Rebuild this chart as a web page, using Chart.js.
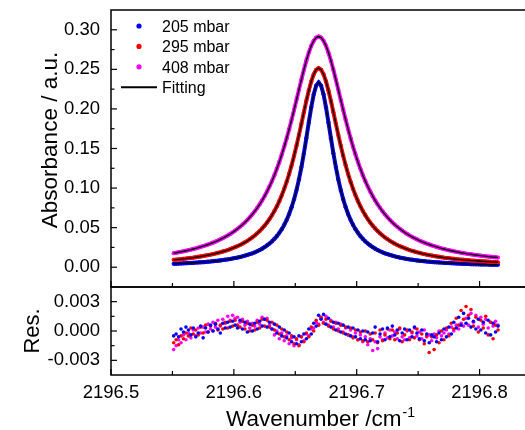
<!DOCTYPE html>
<html>
<head>
<meta charset="utf-8">
<script src="https://cdn.jsdelivr.net/npm/chart.js@4.4.1/dist/chart.umd.min.js"></script>
<style>
  html, body { margin:0; padding:0; background:#fff; width:525px; height:430px; overflow:hidden; }
  canvas { position:absolute; left:0; }
  #cTop { top:0; }
  #cRes { top:280px; }
</style>
</head>
<body>
<canvas id="cTop" width="545" height="300"></canvas>
<canvas id="cRes" width="545" height="150"></canvas>
<script>
// ---------- data ----------
const wavenumber = [
2196.551,2196.553,2196.555,2196.557,2196.559,2196.561,2196.563,2196.565,2196.567,2196.569,
2196.571,2196.573,2196.575,2196.577,2196.579,2196.581,2196.583,2196.585,2196.587,2196.589,
2196.591,2196.593,2196.595,2196.597,2196.599,2196.601,2196.603,2196.605,2196.607,2196.609,
2196.611,2196.613,2196.615,2196.617,2196.619,2196.621,2196.623,2196.625,2196.627,2196.629,
2196.631,2196.633,2196.635,2196.637,2196.639,2196.641,2196.643,2196.645,2196.647,2196.649,
2196.651,2196.653,2196.655,2196.657,2196.659,2196.661,2196.663,2196.665,2196.667,2196.669,
2196.671,2196.673,2196.675,2196.677,2196.679,2196.681,2196.683,2196.685,2196.687,2196.689,
2196.691,2196.693,2196.695,2196.697,2196.699,2196.701,2196.703,2196.705,2196.707,2196.709,
2196.711,2196.713,2196.715,2196.717,2196.719,2196.721,2196.723,2196.725,2196.727,2196.729,
2196.731,2196.733,2196.735,2196.737,2196.739,2196.741,2196.743,2196.745,2196.747,2196.749,
2196.751,2196.753,2196.755,2196.757,2196.759,2196.761,2196.763,2196.765,2196.767,2196.769,
2196.771,2196.773,2196.775,2196.777,2196.779,2196.781,2196.783,2196.785,2196.787,2196.789,
2196.791,2196.793,2196.795,2196.797,2196.799,2196.801,2196.803,2196.805,2196.807,2196.809,
2196.811,2196.813,2196.815];

const abs205 = [
0.0043,0.0044,0.0046,0.0047,0.0049,0.0050,0.0052,0.0054,0.0056,0.0058,
0.0060,0.0062,0.0064,0.0067,0.0070,0.0072,0.0076,0.0079,0.0082,0.0086,
0.0090,0.0095,0.0099,0.0104,0.0110,0.0116,0.0122,0.0129,0.0137,0.0146,
0.0155,0.0165,0.0176,0.0188,0.0202,0.0217,0.0234,0.0253,0.0275,0.0299,
0.0326,0.0358,0.0393,0.0434,0.0481,0.0535,0.0599,0.0672,0.0758,0.0858,
0.0975,0.1110,0.1266,0.1440,0.1631,0.1830,0.2021,0.2184,0.2295,0.2335,
0.2295,0.2184,0.2021,0.1830,0.1631,0.1440,0.1266,0.1110,0.0975,0.0858,
0.0758,0.0672,0.0599,0.0535,0.0481,0.0434,0.0393,0.0358,0.0326,0.0299,
0.0275,0.0253,0.0234,0.0217,0.0202,0.0188,0.0176,0.0165,0.0155,0.0146,
0.0137,0.0129,0.0122,0.0116,0.0110,0.0104,0.0099,0.0095,0.0090,0.0086,
0.0082,0.0079,0.0076,0.0072,0.0070,0.0067,0.0064,0.0062,0.0060,0.0058,
0.0056,0.0054,0.0052,0.0050,0.0049,0.0047,0.0046,0.0044,0.0043,0.0042,
0.0041,0.0039,0.0038,0.0037,0.0036,0.0035,0.0035,0.0034,0.0033,0.0032,
0.0031,0.0031,0.0030];

const abs295 = [
0.0093,0.0096,0.0099,0.0102,0.0106,0.0109,0.0113,0.0117,0.0121,0.0126,
0.0131,0.0136,0.0141,0.0147,0.0153,0.0159,0.0166,0.0173,0.0181,0.0189,
0.0198,0.0207,0.0217,0.0228,0.0240,0.0253,0.0266,0.0281,0.0297,0.0314,
0.0333,0.0354,0.0376,0.0401,0.0428,0.0457,0.0490,0.0525,0.0565,0.0608,
0.0657,0.0710,0.0769,0.0835,0.0909,0.0990,0.1080,0.1179,0.1288,0.1407,
0.1536,0.1672,0.1814,0.1959,0.2101,0.2233,0.2348,0.2438,0.2495,0.2515,
0.2495,0.2438,0.2348,0.2233,0.2101,0.1959,0.1814,0.1672,0.1536,0.1407,
0.1288,0.1179,0.1080,0.0990,0.0909,0.0835,0.0769,0.0710,0.0657,0.0608,
0.0565,0.0525,0.0490,0.0457,0.0428,0.0401,0.0376,0.0354,0.0333,0.0314,
0.0297,0.0281,0.0266,0.0253,0.0240,0.0228,0.0217,0.0207,0.0198,0.0189,
0.0181,0.0173,0.0166,0.0159,0.0153,0.0147,0.0141,0.0136,0.0131,0.0126,
0.0121,0.0117,0.0113,0.0109,0.0106,0.0102,0.0099,0.0096,0.0093,0.0090,
0.0088,0.0085,0.0083,0.0080,0.0078,0.0076,0.0074,0.0072,0.0070,0.0068,
0.0067,0.0065,0.0063];

const abs408 = [
0.0178,0.0183,0.0189,0.0195,0.0201,0.0208,0.0215,0.0222,0.0230,0.0238,
0.0247,0.0256,0.0266,0.0276,0.0287,0.0298,0.0310,0.0323,0.0337,0.0352,
0.0367,0.0384,0.0401,0.0420,0.0441,0.0462,0.0486,0.0511,0.0537,0.0566,
0.0597,0.0631,0.0667,0.0706,0.0749,0.0795,0.0844,0.0898,0.0957,0.1020,
0.1088,0.1163,0.1243,0.1330,0.1423,0.1523,0.1630,0.1744,0.1863,0.1987,
0.2115,0.2244,0.2372,0.2495,0.2610,0.2712,0.2797,0.2861,0.2901,0.2915,
0.2901,0.2861,0.2797,0.2712,0.2610,0.2495,0.2372,0.2244,0.2115,0.1987,
0.1863,0.1744,0.1630,0.1523,0.1423,0.1330,0.1243,0.1163,0.1088,0.1020,
0.0957,0.0898,0.0844,0.0795,0.0749,0.0706,0.0667,0.0631,0.0597,0.0566,
0.0537,0.0511,0.0486,0.0462,0.0441,0.0420,0.0401,0.0384,0.0367,0.0352,
0.0337,0.0323,0.0310,0.0298,0.0287,0.0276,0.0266,0.0256,0.0247,0.0238,
0.0230,0.0222,0.0215,0.0208,0.0201,0.0195,0.0189,0.0183,0.0178,0.0172,
0.0167,0.0163,0.0158,0.0154,0.0150,0.0146,0.0142,0.0138,0.0134,0.0131,
0.0128,0.0125,0.0122];

const res205 = [
-0.0005,-0.0003,-0.0006,0.0002,-0.0001,0.0004,0.0001,-0.0004,0.0003,-0.0006,
-0.0002,0.0005,-0.0007,0.0003,-0.0001,0.0006,0.0000,0.0007,0.0002,-0.0002,
0.0008,0.0003,0.0009,0.0004,0.0010,0.0006,0.0003,0.0011,0.0002,0.0009,
-0.0001,0.0007,0.0000,0.0008,0.0002,0.0010,0.0005,0.0012,0.0004,0.0009,
0.0002,0.0007,-0.0002,0.0004,-0.0005,0.0001,-0.0007,-0.0002,-0.0011,-0.0006,
-0.0013,-0.0005,-0.0011,-0.0003,-0.0008,0.0002,-0.0003,0.0008,0.0005,0.0016,
0.0012,0.0017,0.0007,0.0013,0.0004,0.0009,0.0001,0.0008,-0.0001,0.0006,
-0.0003,0.0004,-0.0005,0.0003,-0.0006,0.0001,-0.0008,0.0000,-0.0009,-0.0001,
-0.0010,-0.0002,0.0004,-0.0011,-0.0003,0.0002,-0.0009,0.0003,-0.0006,0.0005,
-0.0004,0.0001,-0.0010,-0.0002,0.0002,-0.0009,0.0001,-0.0006,0.0004,-0.0002,
-0.0008,0.0001,-0.0010,-0.0003,-0.0012,-0.0004,-0.0006,-0.0011,-0.0002,-0.0009,
0.0002,-0.0006,0.0004,-0.0003,0.0009,0.0003,0.0014,0.0006,0.0018,0.0008,
0.0013,0.0004,0.0010,0.0002,0.0012,0.0001,0.0009,-0.0002,0.0011,-0.0004,
0.0008,-0.0001,0.0005];

const res295 = [
-0.0012,-0.0009,-0.0014,-0.0005,-0.0008,-0.0002,-0.0005,0.0003,-0.0003,0.0001,
-0.0004,0.0004,-0.0002,0.0006,-0.0001,0.0005,0.0000,0.0008,0.0001,0.0006,
0.0002,0.0009,0.0003,0.0010,0.0005,0.0011,0.0006,0.0004,0.0010,0.0002,
0.0008,0.0000,0.0006,0.0001,0.0009,0.0003,0.0012,0.0005,0.0011,0.0004,
0.0009,0.0001,0.0006,-0.0003,0.0002,-0.0006,-0.0001,-0.0009,-0.0005,-0.0013,
-0.0008,-0.0015,-0.0006,-0.0011,-0.0002,-0.0006,0.0004,0.0000,0.0011,0.0006,
0.0014,0.0008,0.0012,0.0005,0.0010,0.0002,0.0008,0.0000,0.0006,-0.0002,
0.0004,-0.0004,0.0003,-0.0007,0.0001,-0.0009,-0.0001,-0.0010,0.0000,-0.0011,
-0.0003,-0.0009,-0.0002,-0.0012,0.0001,-0.0010,-0.0004,0.0002,-0.0008,0.0001,
-0.0009,-0.0002,0.0003,-0.0011,-0.0004,0.0001,-0.0009,-0.0001,-0.0007,0.0002,
-0.0009,-0.0003,-0.0013,-0.0005,-0.0022,-0.0006,-0.0019,-0.0004,-0.0012,0.0000,
-0.0009,0.0003,-0.0005,0.0008,0.0002,0.0013,0.0006,0.0021,0.0012,0.0025,
0.0016,0.0022,0.0005,0.0014,-0.0001,0.0011,0.0003,0.0015,-0.0004,0.0009,
-0.0008,0.0006,0.0001];

const res408 = [
-0.0019,-0.0015,-0.0009,-0.0012,-0.0004,-0.0009,-0.0002,-0.0007,0.0001,-0.0005,
0.0003,-0.0002,0.0004,-0.0001,0.0007,0.0002,0.0009,0.0004,0.0011,0.0005,
0.0012,0.0008,0.0015,0.0011,0.0016,0.0013,0.0014,0.0009,0.0012,0.0006,
0.0010,0.0003,0.0008,0.0005,0.0011,0.0007,0.0014,0.0012,0.0013,0.0006,
0.0002,-0.0004,0.0000,-0.0008,-0.0002,-0.0010,-0.0005,-0.0013,-0.0007,-0.0015,
-0.0009,-0.0014,-0.0006,-0.0010,-0.0003,-0.0005,0.0002,0.0003,0.0009,0.0007,
0.0013,0.0009,0.0015,0.0006,0.0011,0.0004,0.0009,0.0002,0.0007,-0.0001,
0.0003,-0.0004,0.0001,-0.0006,-0.0002,-0.0009,-0.0004,-0.0011,-0.0006,-0.0014,
-0.0008,-0.0020,-0.0011,-0.0018,-0.0006,-0.0009,-0.0002,-0.0007,0.0001,-0.0005,
-0.0001,-0.0008,0.0002,-0.0006,-0.0009,0.0000,-0.0007,-0.0002,0.0003,-0.0005,
-0.0001,-0.0008,0.0001,-0.0006,-0.0004,-0.0010,-0.0003,-0.0007,0.0000,-0.0005,
-0.0002,0.0001,-0.0003,0.0004,0.0000,0.0006,0.0002,0.0008,0.0005,0.0013,
0.0006,0.0018,0.0009,0.0016,0.0004,0.0014,0.0007,0.0012,0.0003,0.0009,
0.0005,0.0010,0.0006];

const seriesLabels = ['205 mbar', '295 mbar', '408 mbar'];
const fitLabel = 'Fitting';
const xTickValues = [2196.5, 2196.6, 2196.7, 2196.8];
const xMinorValues = [2196.55, 2196.65, 2196.75, 2196.85];
const absTickValues = [0, 0.05, 0.10, 0.15, 0.20, 0.25, 0.30];
const absMinorValues = [0.025, 0.075, 0.125, 0.175, 0.225, 0.275];
const resTickValues = [-0.003, 0, 0.003];
const resMinorValues = [-0.0015, 0.0015];
const yTitle = 'Absorbance / a.u.';
const resTitle = 'Res.';
const xTitleMain = 'Wavenumber /cm';
const xTitleSup = '-1';

// ---------- styling ----------
const colors = ['#0000ff', '#ff0000', '#ff00ff'];
const FONT = "'Liberation Sans', Arial, sans-serif";
Chart.defaults.font.family = FONT;
Chart.defaults.color = '#000';

const X_MIN = 2196.5, X_MAX = 2196.85;

const framePlugin = {
  id: 'frame',
  afterDatasetsDraw(chart, args, o) {
    const { ctx, chartArea: a, scales } = chart;
    ctx.save();
    ctx.strokeStyle = '#000';
    ctx.lineWidth = 1.2;
    const seg = (x1, y1, x2, y2) => { ctx.beginPath(); ctx.moveTo(x1, y1); ctx.lineTo(x2, y2); ctx.stroke(); };
    o.xMajor.forEach(v => { const x = scales.x.getPixelForValue(v); seg(x, a.bottom, x, a.bottom - 6); });
    o.xMinor.forEach(v => { const x = scales.x.getPixelForValue(v); seg(x, a.bottom, x, a.bottom - 4); });
    o.yMajor.forEach(v => { const y = scales.y.getPixelForValue(v); seg(a.left, y, a.left + 6, y); });
    o.yMinor.forEach(v => { const y = scales.y.getPixelForValue(v); seg(a.left, y, a.left + 3.5, y); });
    ctx.lineWidth = 1.5;
    ctx.strokeRect(a.left, a.top, a.right - a.left, a.bottom - a.top);
    ctx.restore();
  }
};

const textPlugin = {
  id: 'texts',
  afterDraw(chart, args, o) {
    const ctx = chart.ctx;
    ctx.save();
    ctx.fillStyle = '#000';
    (o.items || []).forEach(t => {
      ctx.save();
      ctx.translate(t.x, t.y);
      if (t.rotate) ctx.rotate(t.rotate);
      ctx.font = t.size + 'px ' + FONT;
      ctx.textBaseline = 'alphabetic';
      if (t.sup) {
        const w1 = ctx.measureText(t.text).width;
        ctx.font = t.supSize + 'px ' + FONT;
        const w2 = ctx.measureText(t.sup).width;
        const start = -(w1 + w2) / 2;
        ctx.textAlign = 'left';
        ctx.font = t.size + 'px ' + FONT;
        ctx.fillText(t.text, start, 0);
        ctx.font = t.supSize + 'px ' + FONT;
        ctx.fillText(t.sup, start + w1 + 1, -t.supRaise);
      } else {
        ctx.textAlign = 'center';
        ctx.fillText(t.text, 0, 0);
      }
      ctx.restore();
    });
    ctx.restore();
  }
};

const legendPlugin = {
  id: 'innerLegend',
  afterDraw(chart, args, o) {
    const { ctx, chartArea: a } = chart;
    const items = chart.data.datasets.filter(d => d.legendRank !== undefined)
      .sort((p, q) => p.legendRank - q.legendRank);
    ctx.save();
    ctx.font = o.size + 'px ' + FONT;
    ctx.textBaseline = 'alphabetic';
    ctx.textAlign = 'left';
    items.forEach((d, i) => {
      const cy = a.top + o.firstRow + i * o.rowGap;
      const sx = a.left + o.symbolX;
      if (d.legendKind === 'line') {
        ctx.strokeStyle = d.borderColor; ctx.lineWidth = 2;
        ctx.beginPath(); ctx.moveTo(sx - 18, cy); ctx.lineTo(sx + 18, cy); ctx.stroke();
      } else {
        ctx.fillStyle = d.backgroundColor;
        ctx.beginPath(); ctx.arc(sx, cy, 2.6, 0, Math.PI * 2); ctx.fill();
      }
      ctx.fillStyle = '#000';
      ctx.fillText(d.label, a.left + o.textX, cy + 5.8);
    });
    ctx.restore();
  }
};

const pts = arr => wavenumber.map((x, i) => ({ x: x, y: arr[i] }));
const absSeries = [abs205, abs295, abs408];
const resSeries = [res205, res295, res408];

const topDatasets = [];
absSeries.forEach((arr, s) => {
  const ds = { type: 'line', label: fitLabel, data: pts(arr), borderColor: '#000', borderWidth: 1.4,
    pointRadius: 0, fill: false, order: 0, legendKind: 'line' };
  if (s === 0) ds.legendRank = 3;
  topDatasets.push(ds);
});
absSeries.forEach((arr, s) => {
  topDatasets.push({ type: 'line', label: seriesLabels[s], data: pts(arr), borderColor: colors[s],
    backgroundColor: colors[s], borderWidth: 4, pointRadius: 2.1, pointBorderWidth: 0,
    pointBackgroundColor: colors[s], fill: false, order: 3 - s, legendRank: s, legendKind: 'dot' });
});

const fixTicks = vals => (s => { s.ticks = vals.map(v => ({ value: v })); });
const noPad = s => { s.paddingTop = 0; s.paddingBottom = 0; s.paddingLeft = 0; s.paddingRight = 0; };
const fitW = w => (s => { s.width = w; noPad(s); });
const fitH = h => (s => { s.height = h; noPad(s); });

new Chart(document.getElementById('cTop'), {
  type: 'line',
  data: { datasets: topDatasets },
  plugins: [framePlugin, textPlugin, legendPlugin],
  options: {
    responsive: false, animation: false, devicePixelRatio: 1, events: [],
    layout: { padding: { top: 10, right: 3, left: 0, bottom: 0 } },
    scales: {
      x: { type: 'linear', min: X_MIN, max: X_MAX, grid: { display: false, drawTicks: false },
        border: { display: false }, ticks: { display: false },
        afterBuildTicks: fixTicks(xTickValues), afterFit: fitH(13) },
      y: { type: 'linear', min: -0.025, max: 0.325, grid: { display: false, drawTicks: false },
        border: { display: false },
        ticks: { autoSkip: false, padding: 11, font: { size: 18.5 }, color: '#000', callback: v => v.toFixed(2) },
        afterBuildTicks: fixTicks(absTickValues), afterFit: fitW(111) }
    },
    plugins: {
      legend: { display: false }, tooltip: { enabled: false },
      frame: { xMajor: xTickValues, xMinor: xMinorValues, yMajor: absTickValues, yMinor: absMinorValues },
      innerLegend: { size: 16, symbolX: 28, textX: 51, firstRow: 16, rowGap: 20.4 },
      texts: { items: [ { text: yTitle, x: 57, y: 140, rotate: -Math.PI / 2, size: 22.5 } ] }
    }
  }
});

const resDatasets = resSeries.map((arr, s) => ({
  type: 'scatter', label: seriesLabels[s], data: pts(arr), backgroundColor: colors[s],
  borderWidth: 0, pointRadius: 1.8, showLine: false, order: s
}));

new Chart(document.getElementById('cRes'), {
  type: 'scatter',
  data: { datasets: resDatasets },
  plugins: [framePlugin, textPlugin],
  options: {
    responsive: false, animation: false, devicePixelRatio: 1, events: [],
    layout: { padding: { top: 7, right: 3, left: 0, bottom: 0 } },
    scales: {
      x: { type: 'linear', min: X_MIN, max: X_MAX, grid: { display: false, drawTicks: false },
        border: { display: false },
        ticks: { autoSkip: false, maxRotation: 0, padding: 7, font: { size: 18.5 }, color: '#000', callback: v => v.toFixed(1) },
        afterBuildTicks: fixTicks(xTickValues), afterFit: fitH(55) },
      y: { type: 'linear', min: -0.0045, max: 0.0045, grid: { display: false, drawTicks: false },
        border: { display: false },
        ticks: { autoSkip: false, padding: 11, font: { size: 18.5 }, color: '#000', callback: v => v.toFixed(3) },
        afterBuildTicks: fixTicks(resTickValues), afterFit: fitW(111) }
    },
    plugins: {
      legend: { display: false }, tooltip: { enabled: false },
      frame: { xMajor: xTickValues, xMinor: xMinorValues, yMajor: resTickValues, yMinor: resMinorValues },
      texts: { items: [
        { text: resTitle, x: 38.5, y: 51, rotate: -Math.PI / 2, size: 22 },
        { text: xTitleMain, sup: xTitleSup, x: 320, y: 146, size: 22.5, supSize: 14, supRaise: 9 }
      ] }
    }
  }
});
</script>
</body>
</html>
